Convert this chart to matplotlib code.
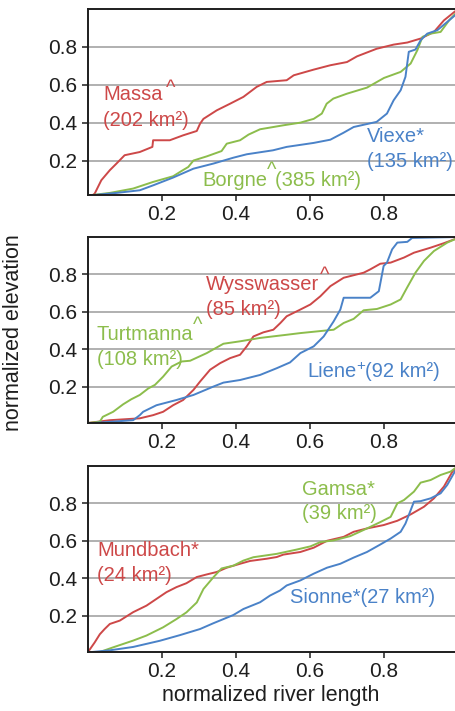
import matplotlib
matplotlib.use("Agg")
import matplotlib.pyplot as plt

plt.rcParams['font.family'] = ['Liberation Sans', 'DejaVu Sans']

RED = '#cd4848'
GREEN = '#8cbd4c'
BLUE = '#4a82c8'

# ---- panel 1 ----
massa_x = [0.0, 0.018, 0.036, 0.059, 0.077, 0.099, 0.14, 0.174, 0.176, 0.221, 0.257, 0.294, 0.303, 0.312,
           0.348, 0.384, 0.42, 0.456, 0.483, 0.537, 0.556, 0.61, 0.655, 0.70, 0.727, 0.78, 0.826,
           0.863, 0.899, 0.935, 0.962, 1.0]
massa_y = [0.0, 0.025, 0.096, 0.149, 0.184, 0.228, 0.245, 0.272, 0.307, 0.307, 0.333, 0.356, 0.395, 0.42,
           0.465, 0.50, 0.536, 0.589, 0.615, 0.624, 0.65, 0.68, 0.703, 0.72, 0.75, 0.79, 0.812,
           0.823, 0.844, 0.879, 0.94, 1.0]

borgne_x = [0.0, 0.059, 0.122, 0.176, 0.23, 0.253, 0.271, 0.285, 0.321, 0.361, 0.375, 0.411, 0.434, 0.465,
            0.528, 0.574, 0.61, 0.632, 0.645, 0.663, 0.70, 0.754, 0.80, 0.845, 0.872, 0.89, 0.904,
            0.926, 0.953, 0.976, 1.0]
borgne_y = [0.015, 0.029, 0.052, 0.087, 0.117, 0.145, 0.166, 0.20, 0.222, 0.25, 0.289, 0.307, 0.337, 0.365,
            0.386, 0.40, 0.42, 0.448, 0.50, 0.527, 0.553, 0.585, 0.636, 0.668, 0.712, 0.782, 0.853,
            0.87, 0.879, 0.94, 0.99]

viexe_x = [0.0, 0.077, 0.14, 0.176, 0.23, 0.285, 0.339, 0.393, 0.429, 0.50, 0.537, 0.61, 0.655, 0.69,
           0.718, 0.78, 0.808, 0.826, 0.845, 0.858, 0.867, 0.885, 0.899, 0.917, 0.944, 0.971, 1.0]
viexe_y = [0.015, 0.029, 0.043, 0.069, 0.11, 0.157, 0.184, 0.215, 0.233, 0.254, 0.272, 0.293, 0.31, 0.346,
           0.377, 0.404, 0.448, 0.518, 0.571, 0.642, 0.774, 0.786, 0.835, 0.87, 0.888, 0.932, 0.98]

# ---- panel 2 ----
wyss_x = [0.0, 0.059, 0.14, 0.176, 0.203, 0.23, 0.257, 0.285, 0.303, 0.33, 0.357, 0.384, 0.411, 0.429,
          0.447, 0.474, 0.501, 0.52, 0.537, 0.574, 0.601, 0.628, 0.655, 0.691, 0.745, 0.763, 0.79,
          0.818, 0.854, 0.881, 0.926, 0.962, 1.0]
wyss_y = [0.005, 0.02, 0.03, 0.047, 0.065, 0.10, 0.128, 0.182, 0.227, 0.29, 0.325, 0.352, 0.37, 0.415,
          0.468, 0.49, 0.504, 0.54, 0.576, 0.612, 0.639, 0.683, 0.737, 0.782, 0.809, 0.827, 0.857,
          0.863, 0.89, 0.916, 0.943, 0.967, 0.995]

turt_x = [0.0, 0.032, 0.04, 0.068, 0.095, 0.117, 0.14, 0.163, 0.181, 0.203, 0.226, 0.253, 0.276, 0.321,
          0.366, 0.411, 0.465, 0.537, 0.574, 0.664, 0.691, 0.718, 0.745, 0.781, 0.818, 0.845, 0.862,
          0.885, 0.908, 0.935, 0.971, 1.0]
turt_y = [0.005, 0.012, 0.038, 0.065, 0.105, 0.132, 0.155, 0.19, 0.209, 0.253, 0.307, 0.334, 0.338, 0.379,
          0.429, 0.442, 0.46, 0.477, 0.486, 0.504, 0.54, 0.562, 0.608, 0.615, 0.639, 0.666, 0.728,
          0.809, 0.872, 0.925, 0.97, 0.995]

liene_x = [0.0, 0.122, 0.14, 0.149, 0.185, 0.239, 0.285, 0.339, 0.366, 0.411, 0.465, 0.51, 0.546, 0.574,
           0.61, 0.637, 0.664, 0.682, 0.691, 0.763, 0.786, 0.799, 0.808, 0.822, 0.836, 0.863, 0.876, 1.0]
liene_y = [0.003, 0.02, 0.047, 0.065, 0.10, 0.128, 0.155, 0.20, 0.221, 0.235, 0.262, 0.298, 0.329, 0.379,
           0.415, 0.468, 0.549, 0.612, 0.675, 0.675, 0.71, 0.845, 0.863, 0.934, 0.97, 0.974, 0.995, 1.0]

# ---- panel 3 ----
mund_x = [0.0, 0.018, 0.032, 0.045, 0.059, 0.086, 0.122, 0.158, 0.185, 0.212, 0.239, 0.266, 0.294, 0.321,
          0.348, 0.375, 0.411, 0.438, 0.483, 0.51, 0.528, 0.574, 0.61, 0.646, 0.691, 0.718, 0.754,
          0.799, 0.836, 0.872, 0.908, 0.935, 0.962, 0.985, 1.0]
mund_y = [0.005, 0.056, 0.10, 0.128, 0.155, 0.173, 0.218, 0.253, 0.289, 0.325, 0.352, 0.373, 0.406, 0.42,
          0.433, 0.456, 0.477, 0.492, 0.504, 0.513, 0.526, 0.54, 0.563, 0.60, 0.621, 0.648, 0.666,
          0.684, 0.707, 0.741, 0.782, 0.827, 0.89, 0.97, 1.0]

gamsa_x = [0.0, 0.032, 0.068, 0.122, 0.158, 0.203, 0.239, 0.266, 0.294, 0.312, 0.339, 0.361, 0.393, 0.42,
           0.447, 0.51, 0.564, 0.601, 0.628, 0.664, 0.709, 0.754, 0.79, 0.818, 0.836, 0.854, 0.881,
           0.899, 0.926, 0.953, 0.98, 1.0]
gamsa_y = [0.003, 0.005, 0.03, 0.066, 0.093, 0.137, 0.181, 0.217, 0.27, 0.342, 0.405, 0.452, 0.467, 0.494,
           0.512, 0.53, 0.553, 0.57, 0.593, 0.602, 0.625, 0.666, 0.70, 0.728, 0.80, 0.818, 0.863,
           0.911, 0.925, 0.952, 0.97, 1.0]

sionne_x = [0.0, 0.059, 0.122, 0.194, 0.248, 0.303, 0.339, 0.393, 0.42, 0.465, 0.492, 0.519, 0.537, 0.574,
            0.61, 0.646, 0.682, 0.718, 0.754, 0.79, 0.818, 0.845, 0.858, 0.881, 0.899, 0.926, 0.953,
            0.971, 1.0]
sionne_y = [0.003, 0.014, 0.032, 0.065, 0.095, 0.128, 0.159, 0.203, 0.235, 0.271, 0.307, 0.334, 0.361, 0.388,
            0.424, 0.456, 0.477, 0.51, 0.54, 0.58, 0.612, 0.648, 0.692, 0.809, 0.812, 0.827, 0.854,
            0.899, 1.0]

ticks = [0.2, 0.4, 0.6, 0.8]
tick_labels = ['0.2', '0.4', '0.6', '0.8']

FS = 14.5
INK = '#1e1e1e'
W, H = 456, 711
fig = plt.figure(figsize=(W / 100, H / 100), dpi=100)


def make_axes(top_px, bottom_px):
    left, right = 88, 458
    ax = fig.add_axes([left / W, 1 - bottom_px / H, (right - left) / W, (bottom_px - top_px) / H])
    ax.set_xlim(0, 1)
    ax.set_ylim(0.005, 1.0)
    ax.set_xticks(ticks)
    ax.set_yticks(ticks)
    ax.set_xticklabels(tick_labels)
    ax.set_yticklabels(tick_labels)
    ax.tick_params(axis='both', direction='out', length=4.5, width=1.1, labelsize=15,
                   colors=INK, pad=3)
    ax.yaxis.grid(True, color='#aaaaaa', linewidth=1.3)
    ax.set_axisbelow(True)
    for side in ('left', 'top', 'bottom'):
        ax.spines[side].set_linewidth(1.4)
        ax.spines[side].set_color(INK)
    ax.spines['right'].set_visible(False)
    return ax


def label(ax, x, y, name, color, sup=None, sup_dx=3, sup_dy=5, sup_fs=None, rest=None,
          rest_gap=1, second=None, second_dy=0.135):
    t = ax.text(x, y, name, color=color, fontsize=FS, ha='left', va='center')
    s = None
    if sup is not None:
        s = ax.annotate(sup, xy=(1, 0), xycoords=t, xytext=(sup_dx, sup_dy),
                        textcoords='offset pixels', color=color,
                        fontsize=sup_fs or FS, ha='left', va='bottom')
    if rest is not None:
        ax.annotate(rest, xy=(1, 0), xycoords=(s if s is not None else t, t),
                    xytext=(rest_gap, 0), textcoords='offset pixels', color=color,
                    fontsize=FS, ha='left', va='bottom')
    if second is not None:
        ax.text(x, y - second_dy, second, color=color, fontsize=FS, ha='left', va='center')


# Panel 1
ax1 = make_axes(9, 195)
ax1.set_ylim(0.018, 1.0)
ax1.plot(massa_x, massa_y, color=RED, lw=1.4)
ax1.plot(borgne_x, borgne_y, color=GREEN, lw=1.4)
ax1.plot(viexe_x, viexe_y, color=BLUE, lw=1.4)
label(ax1, 0.041, 0.548, 'Massa', RED, sup='^', sup_dx=3, sup_dy=6,
      second='(202 km²)', second_dy=0.138)
label(ax1, 0.755, 0.325, 'Viexe*', BLUE, second='(135 km²)', second_dy=0.132)
label(ax1, 0.309, 0.096, 'Borgne', GREEN, sup='^', sup_dx=0, sup_dy=10, rest='(385 km²)', rest_gap=-2)

# Panel 2
ax2 = make_axes(237, 423)
ax2.plot(wyss_x, wyss_y, color=RED, lw=1.4)
ax2.plot(turt_x, turt_y, color=GREEN, lw=1.4)
ax2.plot(liene_x, liene_y, color=BLUE, lw=1.4)
label(ax2, 0.318, 0.746, 'Wysswasser', RED, sup='^', sup_dx=1, sup_dy=9,
      second='(85 km²)', second_dy=0.134)
label(ax2, 0.023, 0.477, 'Turtmanna', GREEN, sup='^', sup_dx=0, sup_dy=9,
      second='(108 km²)', second_dy=0.134)
label(ax2, 0.592, 0.28, 'Liene', BLUE, sup='+', sup_dx=0, sup_dy=8, sup_fs=11,
      rest='(92 km²)', rest_gap=0)

# Panel 3
ax3 = make_axes(466, 652)
ax3.plot(mund_x, mund_y, color=RED, lw=1.4)
ax3.plot(gamsa_x, gamsa_y, color=GREEN, lw=1.4)
ax3.plot(sionne_x, sionne_y, color=BLUE, lw=1.4)
label(ax3, 0.578, 0.872, 'Gamsa*', GREEN, second='(39 km²)', second_dy=0.126)
label(ax3, 0.025, 0.549, 'Mundbach*', RED, second='(24 km²)', second_dy=0.134)
label(ax3, 0.545, 0.298, 'Sionne*(27 km²)', BLUE)

fig.text(0.03, 1 - 333 / H, 'normalized elevation', rotation=90, fontsize=15.5,
         color=INK, ha='center', va='center')
fig.text(271 / W, 1 - 695 / H, 'normalized river length', fontsize=15.5,
         color=INK, ha='center', va='center')

fig.savefig('out.png', dpi=100)
